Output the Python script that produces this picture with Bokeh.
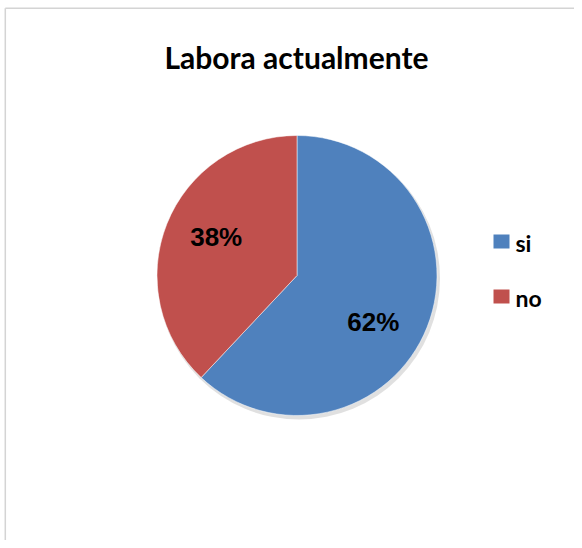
import math
from bokeh.plotting import figure
from bokeh.models import Range1d, ColumnDataSource
from bokeh.core.properties import value
from bokeh.embed import file_html
from bokeh.resources import INLINE

# ---- data ----
title_text = "Labora actualmente"
categories = ["si", "no"]
percents = [62, 38]
colors = ["#4F81BD", "#C0504D"]

W, H = 574, 540
p = figure(width=W, height=H, output_backend="svg", toolbar_location=None,
           x_range=Range1d(0, W), y_range=Range1d(0, H), min_border=0,
           outline_line_color=None, background_fill_color="white",
           border_fill_color="white")
p.axis.visible = False
p.grid.visible = False

# frame lines (top and left)
p.line([4.8, W], [532.2, 532.2], line_color="#D4D4D4", line_width=1.5)
p.line([4.8, 4.8], [0, 532.2], line_color="#D4D4D4", line_width=1.5)

cx, cy, r = 296.5, 265, 140
total = sum(percents)
starts, ends = [], []
a = math.pi / 2
for v in percents:
    sweep = 2 * math.pi * v / total
    ends.append(a)
    starts.append(a - sweep)
    a -= sweep

# soft shadow
p.circle(x=[cx + 2], y=[cy - 3], radius=r + 1, fill_color="#000000",
         fill_alpha=0.12, line_color=None)

src = ColumnDataSource(dict(start=starts, end=ends, color=colors, cat=categories))
p.wedge(x=cx, y=cy, radius=r, start_angle="start", end_angle="end",
        fill_color="color", line_color="white", line_width=0.5, source=src)

# percentage labels
label_shift_deg = [-10, -4]
lab_x, lab_y = [], []
for s, e, sh in zip(starts, ends, label_shift_deg):
    mid = (s + e) / 2 + math.radians(sh)
    lab_x.append(cx + 0.64 * r * math.cos(mid))
    lab_y.append(cy + 0.64 * r * math.sin(mid))
p.text(x=lab_x, y=lab_y, text=[f"{v}%" for v in percents],
       text_font=value("Liberation Sans"), text_font_style="bold",
       text_font_size="26px", text_align="center", text_baseline="middle",
       text_color="black")

# title
p.text(x=[296], y=[484], text=[title_text], text_font=value("Lato"),
       text_font_style="bold", text_font_size="30px", text_align="center",
       text_baseline="middle", text_color="black")

# legend
leg_y = [299 - 55 * i for i in range(len(categories))]
p.rect(x=[501] * len(categories), y=leg_y, width=16, height=14,
       fill_color=colors, line_color=None)
p.text(x=[515] * len(categories), y=[yy - 1 for yy in leg_y], text=categories,
       text_font=value("Lato"), text_font_style="bold", text_font_size="23px",
       text_align="left", text_baseline="middle", text_color="black")

open("out.html", "w").write(file_html(p, INLINE))
